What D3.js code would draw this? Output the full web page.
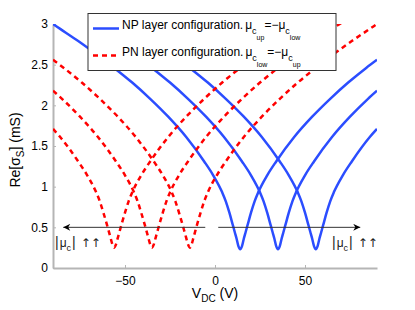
<!DOCTYPE html>
<html>
<head>
<meta charset="utf-8">
<script src="https://cdn.jsdelivr.net/npm/d3@7"></script>
<style>
  body { margin: 0; background: #fff; }
  svg { font-family: "Liberation Sans", Arial, sans-serif; }
  .axis path, .axis line { stroke: #b5b5b5; }
  .axis path { stroke-width: 2; }
  .axis text { fill: #000; font-size: 12px; }
</style>
</head>
<body>
<script>
var w = 415;
var h = 310;

// tick values
var vdcTicks = [-50, 0, 50];
var sigmaTicks = [0, 0.5, 1, 1.5, 2, 2.5, 3];

// NP layer configuration, Re[sigma_S] (mS) vs V_DC (V)
var np1 = [[-90,3.00],[-86,2.94],[-76,2.79],[-66,2.63],[-56,2.46],[-46,2.28],[-36,2.08],[-26,1.86],[-16,1.61],[-6,1.31],[-1,1.14],[4,0.93],[6,0.82],[8,0.68],[10,0.52],[11,0.44],[12,0.36],[13,0.27],[14,0.23],[15,0.27],[16,0.36],[17,0.44],[18,0.52],[20,0.68],[22,0.82],[24,0.93],[29,1.14],[34,1.31],[44,1.61],[54,1.86],[64,2.08],[74,2.28],[84,2.46],[90,2.56]];
var np2 = [[-90,3.29],[-75,3.08],[-65,2.94],[-55,2.79],[-45,2.63],[-35,2.46],[-25,2.28],[-15,2.08],[-5,1.86],[5,1.61],[15,1.31],[20,1.14],[25,0.93],[27,0.82],[29,0.68],[31,0.52],[32,0.44],[33,0.36],[34,0.27],[35,0.23],[36,0.27],[37,0.36],[38,0.44],[39,0.52],[41,0.68],[43,0.82],[45,0.93],[50,1.14],[55,1.31],[65,1.61],[75,1.86],[85,2.08],[90,2.18]];
var np3 = [[-90,3.55],[-70,3.30],[-48,3.00],[-44,2.94],[-34,2.79],[-24,2.63],[-14,2.46],[-4,2.28],[6,2.08],[16,1.86],[26,1.61],[36,1.31],[41,1.14],[46,0.93],[48,0.82],[50,0.68],[52,0.52],[53,0.44],[54,0.36],[55,0.27],[56,0.23],[57,0.27],[58,0.36],[59,0.44],[60,0.52],[62,0.68],[64,0.82],[66,0.93],[71,1.14],[76,1.31],[86,1.61],[90,1.71]];

// PN layer configuration
var pn1 = [[-90,2.56],[-84,2.46],[-74,2.28],[-64,2.08],[-54,1.86],[-44,1.61],[-34,1.31],[-29,1.14],[-24,0.93],[-22,0.82],[-20,0.68],[-18,0.53],[-17,0.45],[-16,0.37],[-15,0.29],[-14,0.25],[-13,0.29],[-12,0.37],[-11,0.45],[-10,0.53],[-8,0.68],[-6,0.82],[-4,0.93],[1,1.14],[6,1.31],[16,1.61],[26,1.86],[36,2.08],[46,2.28],[56,2.46],[66,2.63],[76,2.79],[86,2.94],[90,3.00]];
var pn2 = [[-90,2.18],[-85,2.08],[-75,1.86],[-65,1.61],[-55,1.31],[-50,1.14],[-45,0.93],[-43,0.82],[-41,0.68],[-39,0.53],[-38,0.45],[-37,0.37],[-36,0.29],[-35,0.25],[-34,0.29],[-33,0.37],[-32,0.45],[-31,0.53],[-29,0.68],[-27,0.82],[-25,0.93],[-20,1.14],[-15,1.31],[-5,1.61],[5,1.86],[15,2.08],[25,2.28],[35,2.46],[45,2.63],[55,2.79],[65,2.94],[75,3.08],[90,3.29]];
var pn3 = [[-90,1.71],[-86,1.61],[-76,1.31],[-71,1.14],[-66,0.93],[-64,0.82],[-62,0.68],[-60,0.53],[-59,0.45],[-58,0.37],[-57,0.29],[-56,0.25],[-55,0.29],[-54,0.37],[-53,0.45],[-52,0.53],[-50,0.68],[-48,0.82],[-46,0.93],[-41,1.14],[-36,1.31],[-26,1.61],[-16,1.86],[-6,2.08],[4,2.28],[14,2.46],[24,2.63],[34,2.79],[44,2.94],[48,3.00],[70,3.30],[90,3.55]];

// arrow annotations: [from V, to V] at sigma = 0.5
var arrowLevel = 0.5;
var arrows = [[-5.4, -84.3], [1.8, 80.7]];

var xScale = d3.scaleLinear()
               .domain([-90, 90])
               .range([53, 377]);

var yScale = d3.scaleLinear()
               .domain([0, 3])
               .range([268, 24]);

var svg = d3.select("body")
            .append("svg")
            .attr("width", w)
            .attr("height", h);

svg.append("defs").append("clipPath")
   .attr("id", "plotClip")
   .append("rect")
   .attr("x", 53)
   .attr("y", 24)
   .attr("width", 324)
   .attr("height", 244);

svg.select("defs").append("marker")
   .attr("id", "arrowHead")
   .attr("viewBox", "0 0 10 10")
   .attr("refX", 10)
   .attr("refY", 5)
   .attr("markerWidth", 9)
   .attr("markerHeight", 7)
   .attr("markerUnits", "userSpaceOnUse")
   .attr("orient", "auto")
   .append("path")
   .attr("d", "M0,0 L10,5 L0,10 L3,5 Z")
   .attr("fill", "#000");

var xAxis = d3.axisBottom(xScale)
              .tickValues(vdcTicks)
              .tickSizeInner(-3)
              .tickSizeOuter(0)
              .tickPadding(8)
              .tickFormat(d3.format(""));

var yAxis = d3.axisLeft(yScale)
              .tickValues(sigmaTicks)
              .tickSizeInner(-3)
              .tickSizeOuter(0)
              .tickPadding(5)
              .tickFormat(function(d) { return String(d); });

svg.append("g")
   .attr("class", "axis")
   .attr("transform", "translate(0,268)")
   .call(xAxis);

svg.append("g")
   .attr("class", "axis")
   .attr("transform", "translate(53,0)")
   .call(yAxis);

var line = d3.line()
             .x(function(d) { return xScale(d[0]); })
             .y(function(d) { return yScale(d[1]); })
             .curve(d3.curveMonotoneX);

var plot = svg.append("g").attr("clip-path", "url(#plotClip)");

[np1, np2, np3].forEach(function(d) {
  plot.append("path")
      .datum(d)
      .attr("d", line)
      .attr("fill", "none")
      .attr("stroke", "#2b4dff")
      .attr("stroke-width", 2.5);
});

[pn1, pn2, pn3].forEach(function(d) {
  plot.append("path")
      .datum(d)
      .attr("d", line)
      .attr("fill", "none")
      .attr("stroke", "#ff0000")
      .attr("stroke-width", 2.5)
      .attr("stroke-dasharray", "5,4");
});

// Arrows
arrows.forEach(function(a) {
  svg.append("line")
     .attr("x1", xScale(a[0]))
     .attr("x2", xScale(a[1]))
     .attr("y1", yScale(arrowLevel))
     .attr("y2", yScale(arrowLevel))
     .attr("stroke", "#333")
     .attr("stroke-width", 1)
     .attr("marker-end", "url(#arrowHead)");
});

function muLabel(x, y) {
  var t = svg.append("text")
             .attr("x", x)
             .attr("y", y)
             .attr("font-size", 12)
             .attr("fill", "#222");
  t.append("tspan").attr("font-size", 14).text("|");
  t.append("tspan").attr("dx", 1).text("\u03bc");
  t.append("tspan").attr("font-size", 9).attr("dy", 4).text("c");
  t.append("tspan").attr("font-size", 14).attr("dy", -4).attr("dx", 1).text("|");
  t.append("tspan").attr("font-family", "DejaVu Sans").attr("font-size", 12)
   .attr("dx", 5).text("\u2191\u2191");
}
muLabel(55, 247);
muLabel(332, 247);

// Axis labels
var yl = svg.append("text")
            .attr("transform", "translate(20,150) rotate(-90)")
            .attr("text-anchor", "middle")
            .attr("font-size", 14);
yl.append("tspan").text("Re[\u03c3");
yl.append("tspan").attr("font-size", 10).attr("dy", 4).text("S");
yl.append("tspan").attr("dy", -4).text("] (mS)");

var xl = svg.append("text")
            .attr("x", 215)
            .attr("y", 298)
            .attr("text-anchor", "middle")
            .attr("font-size", 14);
xl.append("tspan").text("V");
xl.append("tspan").attr("font-size", 10).attr("dy", 4).text("DC");
xl.append("tspan").attr("dy", -4).text(" (V)");

// Legend
var legend = svg.append("g");

legend.append("rect")
      .attr("x", 88)
      .attr("y", 13.5)
      .attr("width", 248)
      .attr("height", 57)
      .attr("fill", "#fff")
      .attr("stroke", "#333")
      .attr("stroke-width", 1);

legend.append("line")
      .attr("x1", 93).attr("x2", 119)
      .attr("y1", 28.5).attr("y2", 28.5)
      .attr("stroke", "#2b4dff")
      .attr("stroke-width", 2.5);

legend.append("line")
      .attr("x1", 93).attr("x2", 119)
      .attr("y1", 55.5).attr("y2", 55.5)
      .attr("stroke", "#ff0000")
      .attr("stroke-width", 2.5)
      .attr("stroke-dasharray", "5,4");

function legendText(y, name, sub1, sub2) {
  var t = legend.append("text")
                .attr("x", 122)
                .attr("y", y)
                .attr("font-size", 12);
  t.append("tspan").text(name + " layer configuration.");
  t.append("tspan").attr("dx", 2).text("\u03bc");
  t.append("tspan").attr("font-size", 9).attr("dy", 5).text("c");
  t.append("tspan").attr("font-size", 7).attr("dy", 6).text(sub1);
  t.append("tspan").attr("font-size", 12).attr("dy", -11).text("=\u2212\u03bc");
  t.append("tspan").attr("font-size", 9).attr("dy", 5).text("c");
  t.append("tspan").attr("font-size", 7).attr("dy", 6).text(sub2);
}
legendText(29, "NP", "up", "low");
legendText(56, "PN", "low", "up");

</script>
</body>
</html>
